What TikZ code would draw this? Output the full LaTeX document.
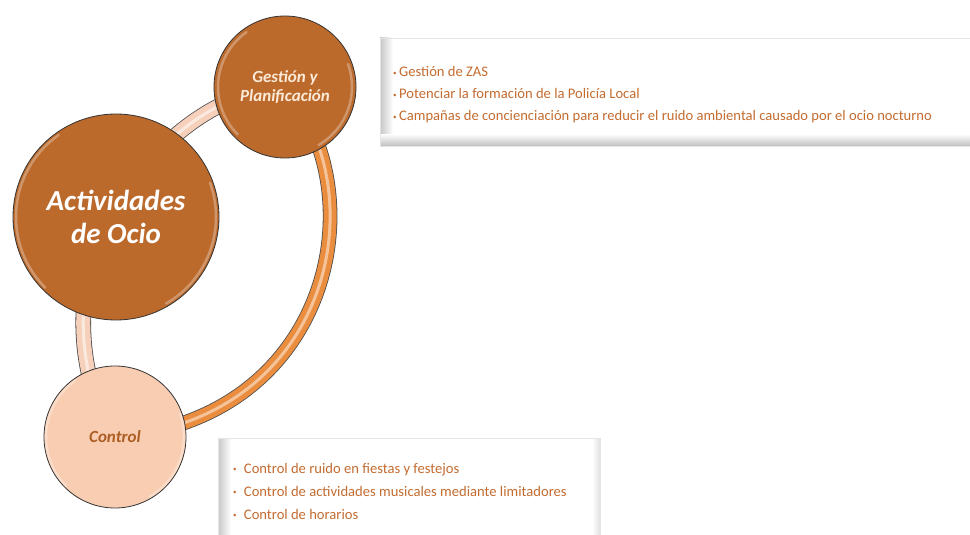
\documentclass[tikz,border=0pt]{standalone}
\usepackage{fontspec}
\setmainfont{Carlito}
\usetikzlibrary{backgrounds}

\definecolor{ocre}{RGB}{188,106,44}
\definecolor{peach}{RGB}{248,205,178}
\definecolor{bandpink}{RGB}{246,208,186}
\definecolor{bandorange}{RGB}{234,141,62}
\definecolor{itemtxt}{RGB}{196,108,48}
\definecolor{ctrltxt}{RGB}{172,94,36}
\definecolor{gesttxt}{RGB}{252,234,216}

\newcommand{\dotitem}{\raisebox{1.8pt}{\fontsize{7}{7}\selectfont\textbullet}}

\begin{document}
\begin{tikzpicture}[x=1pt,y=-1pt,
  bigdisc/.style={circle, draw=black!80, line width=.8pt, fill=ocre, inner sep=0pt,
    minimum size=206pt, text=white, align=center,
    font=\bfseries\itshape\fontsize{29}{33}\selectfont},
  smalldisc/.style={circle, draw=black!80, line width=.8pt, inner sep=0pt,
    minimum size=142pt, align=center, font=\bfseries\itshape\fontsize{17}{19}\selectfont},
  hilite/.style={draw=white, opacity=.3, line width=2.5pt, line cap=round},
  pinkband/.style={draw=bandpink, line width=14pt,
    preaction={draw=black!70, line width=15.6pt},
    postaction={draw=white, line width=3pt, opacity=.55}},
  orangeband/.style={draw=bandorange, line width=13pt,
    preaction={draw=black!70, line width=14.6pt},
    postaction={draw=white!60!bandorange, line width=3pt, opacity=.8}},
  item/.style={anchor=base west, inner sep=0pt, text=itemtxt, font=\fontsize{14.6}{16}\selectfont}]

\useasboundingbox (0,0) rectangle (970,535);

\node[bigdisc] (ocio) at (116,217) {Actividades\\de Ocio};
\node[smalldisc, fill=ocre, text=gesttxt] (gest) at (285,87) {Gestión y\\Planificación};
\node[smalldisc, fill=peach, text=ctrltxt] (ctrl) at (115,437) {Control};

\foreach \n/\r in {ocio/100, gest/67, ctrl/69} {
  \draw[hilite] (\n.center) ++(-125:\r) arc (-125:-225:\r);
  \draw[hilite] (\n.center) ++(60:\r) arc (60:-20:\r);
}

\begin{scope}[on background layer]
\draw[pinkband] (ocio.center) .. controls (145,145) and (220,90) .. (gest.center);
\draw[orangeband] (gest.center) .. controls (378,195) and (330,420) .. (ctrl.center);
\draw[pinkband] (ctrl.center) .. controls (75,380) and (70,270) .. (ocio.center);
\end{scope}

% cuadro de gestion
\fill[white] (380,38) rectangle (975,146);
\shade[left color=black!22, right color=white] (380,38) rectangle (393,146);
\shade[top color=white, bottom color=black!25] (380,134) rectangle (975,146);
\draw[black!10] (380,38) rectangle (975,146);

\foreach \t [count=\i] in {Gestión de ZAS, Potenciar la formación de la Policía Local,
    Campañas de concienciación para reducir el ruido ambiental causado por el ocio nocturno}
  \node[item] (gz\i) at (393,55+22*\i) {\dotitem\,\t};

% cuadro de control
\fill[white] (218,438) rectangle (600,540);
\shade[left color=black!22, right color=white] (218,438) rectangle (231,540);
\shade[left color=white, right color=black!12] (592,438) rectangle (600,540);
\draw[black!10] (218,438) rectangle (600,540);

\foreach \t [count=\i] in {Control de ruido en fiestas y festejos,
    Control de actividades musicales mediante limitadores, Control de horarios}
  \node[item] (ct\i) at (233,450+23*\i) {\dotitem\enspace\t};

\end{tikzpicture}
\end{document}
